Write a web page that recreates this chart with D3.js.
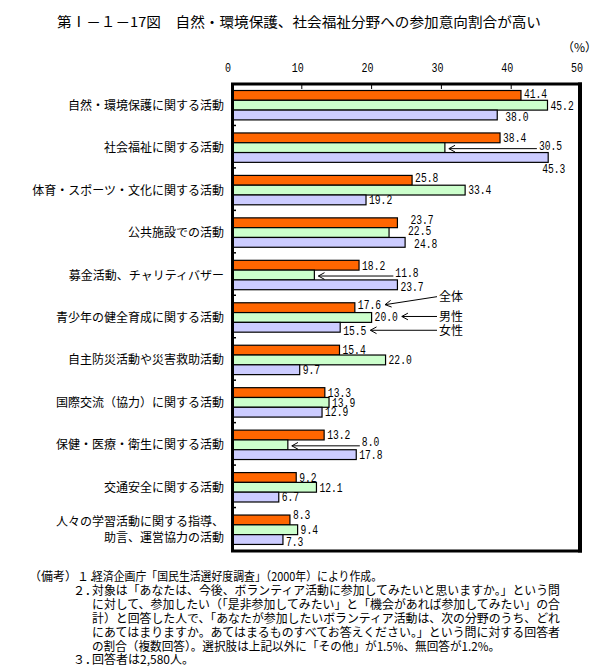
<!DOCTYPE html>
<html><head><meta charset="utf-8">
<script src="https://cdn.jsdelivr.net/npm/d3@7"></script>
<style>
html,body{margin:0;padding:0;background:#fff;}
svg{display:block;}
.jp{font-family:"Noto Sans CJK JP","Noto Sans CJK SC",sans-serif;}
.num{font-family:"Liberation Mono","DejaVu Sans Mono",monospace;}
</style></head>
<body>
<svg id="c" width="597" height="670"></svg>
<script>
// ---------- data ----------
const titleText = "第Ⅰ－１－17図　自然・環境保護、社会福祉分野への参加意向割合が高い";
const categories = [
  "自然・環境保護に関する活動",
  "社会福祉に関する活動",
  "体育・スポーツ・文化に関する活動",
  "公共施設での活動",
  "募金活動、チャリティバザー",
  "青少年の健全育成に関する活動",
  "自主防災活動や災害救助活動",
  "国際交流（協力）に関する活動",
  "保健・医療・衛生に関する活動",
  "交通安全に関する活動",
  "人々の学習活動に関する指導、|助言、運営協力の活動"
];
const seriesNames = ["全体", "男性", "女性"];
const totalValues  = [41.4, 38.4, 25.8, 23.7, 18.2, 17.6, 15.4, 13.3, 13.2, 9.2, 8.3];
const maleValues   = [45.2, 30.5, 33.4, 22.5, 11.8, 20.0, 22.0, 13.9, 8.0, 12.1, 9.4];
const femaleValues = [38.0, 45.3, 19.2, 24.8, 23.7, 15.5, 9.7, 12.9, 17.8, 6.7, 7.3];
const xTickValues = [0, 10, 20, 30, 40, 50];
const unitLabel = "（%）";
const noteLines = [
  ["（備考）１．", "経済企画庁「国民生活選好度調査」（2000年）により作成。"],
  ["２．", "対象は「あなたは、今後、ボランティア活動に参加してみたいと思いますか。」という問"],
  ["", "に対して、参加したい（「是非参加してみたい」と「機会があれば参加してみたい」の合"],
  ["", "計）と回答した人で、「あなたが参加したいボランティア活動は、次の分野のうち、どれ"],
  ["", "にあてはまりますか。あてはまるものすべてお答えください。」という問に対する回答者"],
  ["", "の割合（複数回答）。選択肢は上記以外に「その他」が1.5%、無回答が1.2%。"],
  ["３．", "回答者は2,580人。"]
];

// ---------- layout / style ----------
const colors = ["#FF6600", "#CCFFCC", "#CCCCFF"];
const plot = {left: 232, right: 581, top: 84, bottom: 551};
const noteWidths = [290, 468, 468, 468, 468, 408, null];
// label nudges: key "group-series" -> {dx, dy, arrow, legend}
const labelNudge = {
  "0-0": {dy: -2},
  "0-2": {dx: 5, dy: 2},
  "1-1": {dx: 91, dy: -2, arrow: true},
  "1-2": {dx: -9, dy: 11},
  "2-0": {dy: -3},
  "3-0": {dx: 10, dy: -3},
  "3-1": {dx: 16, dy: -2},
  "3-2": {dx: 6, dy: 1},
  "4-1": {dx: 78, dy: -2, arrow: true},
  "4-2": {dy: 2},
  "5-0": {dy: -3, legend: {dx: 52, dy: -8}},
  "5-1": {dy: -1, legend: {dx: 0, dy: 0}},
  "5-2": {dy: 3, legend: {dx: 0, dy: 0}},
  "8-1": {dx: 71, dy: -3, arrow: true},
  "10-0": {dy: -5},
  "10-2": {dy: 2}
};

const svg = d3.select("#c");
const seriesValues = [totalValues, maleValues, femaleValues];

const x = d3.scaleLinear().domain([0, 50]).range([plot.left, plot.right]);
const y = d3.scaleBand().domain(d3.range(categories.length)).range([plot.top, plot.bottom]).paddingInner(0).paddingOuter(0);
const step = y.step();
const barOffset = 6.5, barH = 9.8;

// title
svg.append("text").attr("class", "jp")
  .attr("x", 57).attr("y", 27)
  .attr("font-size", 14).attr("textLength", 484).attr("lengthAdjust", "spacingAndGlyphs")
  .text(titleText);

// unit
svg.append("text").attr("class", "jp")
  .attr("x", 562).attr("y", 52).attr("font-size", 12).text(unitLabel);

// x tick labels
svg.append("g").selectAll("text").data(xTickValues).join("text")
  .attr("class", "num")
  .attr("x", d => x(d) - 4).attr("y", 72)
  .attr("text-anchor", "middle").attr("font-size", 12)
  .attr("textLength", d => String(d).length * 6).attr("lengthAdjust", "spacingAndGlyphs")
  .text(d => d);

// bars
seriesValues.forEach((vals, si) => {
  svg.append("g").selectAll("rect").data(vals).join("rect")
    .attr("x", x(0))
    .attr("y", (d, i) => y(i) + barOffset + si * barH)
    .attr("width", d => x(d) - x(0))
    .attr("height", barH)
    .attr("fill", colors[si])
    .attr("stroke", "#000").attr("stroke-width", 1.2);
});

// frame
const fr = svg.append("g").attr("fill", "none").attr("stroke", "#000");
fr.append("line").attr("x1", plot.left - 1).attr("x2", 582).attr("y1", plot.top).attr("y2", plot.top).attr("stroke-width", 3);
fr.append("line").attr("x1", plot.left - 1).attr("x2", 582).attr("y1", plot.bottom).attr("y2", plot.bottom).attr("stroke-width", 3);
fr.append("line").attr("x1", plot.left + 0.5).attr("x2", plot.left + 0.5).attr("y1", plot.top).attr("y2", plot.bottom).attr("stroke-width", 3);
fr.append("line").attr("x1", 580).attr("x2", 580).attr("y1", plot.top - 1.5).attr("y2", plot.bottom + 1.5).attr("stroke-width", 4);
// top ticks
fr.selectAll(".tt").data(xTickValues.slice(1, -1)).join("line")
  .attr("x1", d => x(d)).attr("x2", d => x(d)).attr("y1", plot.top).attr("y2", plot.top + 5).attr("stroke-width", 1);
// left ticks at group boundaries
fr.selectAll(".lt").data(d3.range(1, categories.length)).join("line")
  .attr("x1", plot.left).attr("x2", plot.left + 4)
  .attr("y1", i => y(i) - 1).attr("y2", i => y(i) - 1).attr("stroke-width", 1.5);

// category labels
categories.forEach((c, i) => {
  const parts = c.split("|");
  const cy = y(i) + step / 2;
  parts.forEach((p, k) => {
    const yy = parts.length === 1 ? cy + 4.5 : cy - 3.5 + k * 16;
    svg.append("text").attr("class", "jp")
      .attr("x", 224).attr("y", yy).attr("text-anchor", "end").attr("font-size", 12)
      .text(p);
  });
});

// arrow helper
function arrow(x1, y1, x2, y2) {
  const g = svg.append("g").attr("stroke", "#000").attr("fill", "none").attr("stroke-width", 1);
  g.append("line").attr("x1", x1).attr("y1", y1).attr("x2", x2).attr("y2", y2);
  const ang = Math.atan2(y2 - y1, x2 - x1);
  const a = 0.5, L = 7;
  g.append("path").attr("d",
    `M${x1 + L * Math.cos(ang - a)},${y1 + L * Math.sin(ang - a)} L${x1},${y1} L${x1 + L * Math.cos(ang + a)},${y1 + L * Math.sin(ang + a)}`);
}

// value labels
const charW = 5.8;
seriesValues.forEach((vals, si) => {
  vals.forEach((v, i) => {
    const key = i + "-" + si;
    const nd = labelNudge[key] || {};
    const end = x(v);
    const cy = y(i) + barOffset + si * barH + barH / 2;
    const lx = end + 3 + (nd.dx || 0);
    const ly = cy + (nd.dy || 0);
    const str = v.toFixed(1);
    const w = str.length * charW;
    svg.append("text").attr("class", "num")
      .attr("x", lx).attr("y", ly + 4.3).attr("font-size", 12)
      .attr("textLength", w).attr("lengthAdjust", "spacingAndGlyphs")
      .text(str);
    if (nd.arrow) {
      arrow(end + 4, cy + 1, lx - 2, cy + 1);
    }
    if (nd.legend) {
      const tipX = lx + w + 4;
      const tailX = 437;
      const tailY = ly + nd.legend.dy;
      arrow(tipX, ly, tailX, tailY);
      svg.append("text").attr("class", "jp")
        .attr("x", tailX + 2).attr("y", tailY + 4.5).attr("font-size", 12)
        .text(seriesNames[si]);
    }
  });
});

// notes
const noteY0 = 581, noteDY = 13.9;
noteLines.forEach((ln, k) => {
  const yy = noteY0 + k * noteDY;
  if (ln[0]) {
    svg.append("text").attr("class", "jp")
      .attr("x", ln[0].startsWith("（") ? 29 : 73).attr("y", yy).attr("font-size", 12)
      .text(ln[0]);
  }
  const t = svg.append("text").attr("class", "jp")
    .attr("x", 92).attr("y", yy).attr("font-size", 12)
    .text(ln[1]);
  if (noteWidths[k]) t.attr("textLength", noteWidths[k]).attr("lengthAdjust", "spacingAndGlyphs");
});
</script>
</body></html>
